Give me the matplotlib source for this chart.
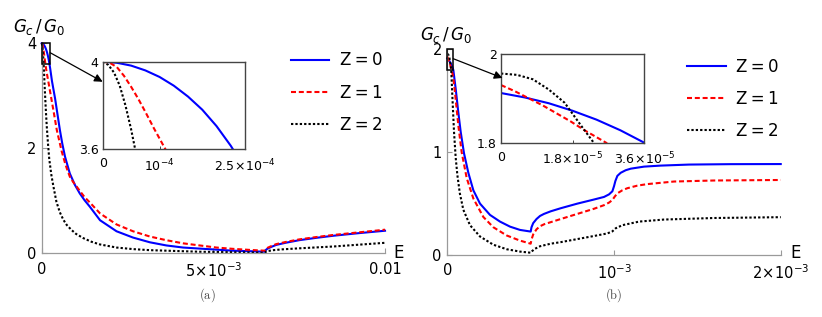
import numpy as np
import matplotlib
matplotlib.use('Agg')
import matplotlib.pyplot as plt
from matplotlib.patches import Rectangle, ConnectionPatch

plt.rcParams['font.family'] = 'DejaVu Sans'
plt.rcParams['mathtext.fontset'] = 'dejavusans'

# ---- panel (a): energies in units of 1e-3 ----
ea_z0 = [0, 0.025, 0.05, 0.075, 0.10, 0.125, 0.15, 0.175, 0.20, 0.225, 0.25, 0.30, 0.39, 0.46,
         0.53, 0.60, 0.68, 0.82, 0.97, 1.11, 1.25, 1.40, 1.70, 2.18, 2.66, 3.15, 3.63, 4.12,
         4.60, 5.09, 5.57, 6.06, 6.50, 6.53, 6.58, 6.68, 6.83, 7.10, 7.50, 8.00, 8.50, 9.25, 10.0]
ga_z0 = [4.00, 3.995, 3.982, 3.96, 3.93, 3.89, 3.84, 3.78, 3.705, 3.615, 3.51, 3.28, 2.95, 2.65,
         2.35, 2.09, 1.84, 1.52, 1.30, 1.14, 1.01, 0.89, 0.63, 0.42, 0.30, 0.21, 0.15, 0.11,
         0.09, 0.07, 0.05, 0.04, 0.03, 0.065, 0.09, 0.12, 0.16, 0.20, 0.25, 0.295, 0.335, 0.385, 0.43]

ea_z1 = [0, 0.0125, 0.025, 0.0375, 0.05, 0.0625, 0.075, 0.09, 0.11, 0.13, 0.15, 0.20, 0.24, 0.34,
         0.44, 0.58, 0.68, 0.73, 0.82, 0.92, 1.02, 1.11, 1.25, 1.40, 1.70, 2.18, 2.66, 3.15,
         3.63, 4.12, 4.60, 5.09, 5.57, 6.06, 6.50, 6.53, 6.58, 6.68, 6.83, 7.10, 7.50, 8.00,
         8.50, 9.25, 10.0]
ga_z1 = [4.00, 3.995, 3.975, 3.935, 3.885, 3.83, 3.77, 3.695, 3.60, 3.51, 3.43, 3.25, 3.10, 2.73,
         2.35, 1.95, 1.72, 1.62, 1.46, 1.355, 1.27, 1.19, 1.07, 0.97, 0.76, 0.55, 0.42, 0.32,
         0.25, 0.19, 0.15, 0.11, 0.085, 0.065, 0.05, 0.08, 0.105, 0.135, 0.175, 0.215, 0.265, 0.31,
         0.35, 0.40, 0.45]

ea_z2 = [0, 0.01, 0.02, 0.03, 0.04, 0.05, 0.057, 0.07, 0.085, 0.10, 0.125, 0.15, 0.185, 0.22,
         0.28, 0.34, 0.43, 0.53, 0.63, 0.73, 0.86, 1.0, 1.21, 1.45, 1.69, 2.18, 2.66, 3.15,
         3.63, 4.6, 5.57, 6.5, 6.53, 6.6, 6.75, 7.0, 7.5, 8.5, 9.25, 10.0]
ga_z2 = [4.00, 3.985, 3.95, 3.89, 3.80, 3.69, 3.60, 3.42, 3.20, 3.00, 2.68, 2.40, 2.08, 1.80,
         1.50, 1.28, 0.98, 0.78, 0.64, 0.54, 0.45, 0.37, 0.29, 0.22, 0.17, 0.11, 0.08, 0.06,
         0.05, 0.03, 0.02, 0.01, 0.03, 0.045, 0.06, 0.075, 0.095, 0.13, 0.165, 0.20]

# ---- panel (b): energies in units of 1e-3 ----
eb_z0 = [0, 0.006, 0.012, 0.018, 0.024, 0.030, 0.036, 0.05, 0.065, 0.08, 0.10, 0.126, 0.156,
         0.196, 0.256, 0.316, 0.376, 0.436, 0.50, 0.505, 0.515, 0.535, 0.556, 0.58, 0.62, 0.68,
         0.78, 0.88, 0.94, 0.97, 0.99, 1.0, 1.008, 1.02, 1.04, 1.07, 1.10, 1.18, 1.28, 1.45,
         1.70, 2.0]
gb_z0 = [1.912, 1.902, 1.889, 1.872, 1.852, 1.828, 1.80, 1.62, 1.40, 1.20, 0.99, 0.80, 0.63,
         0.50, 0.39, 0.325, 0.276, 0.244, 0.228, 0.27, 0.31, 0.35, 0.38, 0.40, 0.425, 0.455,
         0.50, 0.54, 0.565, 0.59, 0.62, 0.67, 0.72, 0.77, 0.80, 0.825, 0.84, 0.86, 0.87, 0.88,
         0.884, 0.885]

eb_z1 = [0, 0.0035, 0.007, 0.0105, 0.014, 0.0175, 0.021, 0.0264, 0.036, 0.046, 0.056, 0.066,
         0.086, 0.116, 0.156, 0.216, 0.276, 0.356, 0.436, 0.50, 0.505, 0.515, 0.535, 0.556,
         0.582, 0.68, 0.78, 0.88, 0.94, 0.97, 0.99, 1.005, 1.02, 1.05, 1.08, 1.14, 1.20, 1.36,
         1.60, 2.0]
gb_z1 = [1.930, 1.916, 1.900, 1.884, 1.866, 1.848, 1.828, 1.80, 1.72, 1.58, 1.42, 1.26,
         1.00, 0.75, 0.55, 0.37, 0.27, 0.19, 0.14, 0.11, 0.15, 0.20, 0.25, 0.28,
         0.30, 0.35, 0.40, 0.45, 0.485, 0.51, 0.535, 0.57, 0.60, 0.63, 0.65, 0.675, 0.69, 0.715,
         0.725, 0.73]

eb_z2 = [0, 0.004, 0.008, 0.012, 0.016, 0.02, 0.0233, 0.03, 0.04, 0.05, 0.06, 0.075, 0.096,
         0.136, 0.196, 0.276, 0.356, 0.436, 0.50, 0.51, 0.525, 0.556, 0.62, 0.68, 0.78, 0.88,
         0.96, 0.99, 1.01, 1.05, 1.15, 1.30, 1.60, 2.0]
gb_z2 = [1.956, 1.953, 1.943, 1.92, 1.89, 1.84, 1.80, 1.55, 1.20, 0.95, 0.78, 0.60, 0.44,
         0.29, 0.18, 0.10, 0.056, 0.033, 0.022, 0.04, 0.06, 0.085, 0.11, 0.125, 0.155, 0.185,
         0.21, 0.23, 0.26, 0.29, 0.325, 0.345, 0.36, 0.368]

labels = ['Z\u2009=\u20090', 'Z\u2009=\u20091', 'Z\u2009=\u20092']
colors = ['#0000ff', '#ff0000', '#000000']
styles = ['-', (0, (2.4, 1.35)), (0, (1.1, 1.0))]

series_a = [(ea_z0, ga_z0), (ea_z1, ga_z1), (ea_z2, ga_z2)]
series_b = [(eb_z0, gb_z0), (eb_z1, gb_z1), (eb_z2, gb_z2)]

AXIS_GRAY = '#9a9a9a'
INSET_GRAY = '#444444'

fig = plt.figure(figsize=(8.22, 3.17), dpi=100)


def style_main(ax):
    for s in ['top', 'right']:
        ax.spines[s].set_visible(False)
    for s in ['left', 'bottom']:
        ax.spines[s].set_color(AXIS_GRAY)
        ax.spines[s].set_linewidth(0.9)
    ax.tick_params(direction='in', length=3.5, width=0.8, color=AXIS_GRAY,
                   labelsize=10.5, labelcolor='black')
    ax.tick_params(axis='x', pad=6)
    ax.tick_params(axis='y', pad=4)
    ax.patch.set_alpha(0)


def style_inset(ax):
    for s in ax.spines.values():
        s.set_color(INSET_GRAY)
        s.set_linewidth(1.0)
    ax.tick_params(direction='in', length=2.5, width=0.7, color=INSET_GRAY,
                   labelsize=9, labelcolor='black')
    ax.tick_params(axis='x', pad=6)
    ax.tick_params(axis='y', pad=3)


def draw(ax, series, clip=True):
    lines = []
    for (e, g), c, ls, lab in zip(series, colors, styles, labels):
        ln, = ax.plot(np.array(e) * 1e-3, g, color=c, linestyle=ls, lw=1.5,
                      label=lab, clip_on=clip)
        lines.append(ln)
    return lines


# ---------- panel (a) ----------
axa = fig.add_axes([0.0507, 0.2009, 0.4177, 0.6625])
lines_a = draw(axa, series_a, clip=False)
axa.set_xlim(0, 0.01)
axa.set_ylim(0, 4)
axa.set_xticks([0, 5e-3, 0.01])
axa.set_xticklabels(['0', r'$5\!\times\!10^{-3}$', '0.01'])
axa.set_yticks([0, 2, 4])
axa.set_yticklabels(['0', '2', '4'])
style_main(axa)
axa.add_patch(Rectangle((0, 3.6), 2.5e-4, 0.4, fill=False, edgecolor='black', lw=1.1,
                        clip_on=False, zorder=5))

ina = fig.add_axes([0.1249, 0.5300, 0.1731, 0.2754])
draw(ina, series_a)
ina.set_xlim(0, 2.5e-4)
ina.set_ylim(3.6, 4)
ina.set_xticks([0, 1e-4, 2.5e-4])
ina.set_xticklabels(['0', r'$10^{-4}$', r'$2.5\!\times\!10^{-4}$'])
ina.set_yticks([3.6, 4])
ina.set_yticklabels(['3.6', '4'])
style_inset(ina)

con_a = ConnectionPatch(xyA=(2.5e-4, 3.82), coordsA=axa.transData,
                        xyB=(0.0, 0.77), coordsB=ina.transAxes,
                        arrowstyle='-|>', mutation_scale=12, color='black', lw=0.9)
fig.add_artist(con_a)

axa.legend(handles=lines_a, loc='upper left', bbox_to_anchor=(0.354, 0.838),
           bbox_transform=fig.transFigure, frameon=False, fontsize=12,
           handlelength=2.3, handletextpad=0.65, labelspacing=0.85,
           borderpad=0, borderaxespad=0)

fig.text(39 / 822, 1 - 27 / 317, r'$G_c\,/\,G_0$', fontsize=12, ha='center', va='center')
fig.text(399 / 822, 1 - 253 / 317, 'E', fontsize=12, ha='center', va='center')
fig.text(207 / 822, 1 - 295 / 317, r'$\mathrm{(a)}$', math_fontfamily='cm',
         fontsize=9, color='#444444', ha='center', va='center')

# ---------- panel (b) ----------
axb = fig.add_axes([0.5442, 0.1956, 0.4056, 0.6483])
lines_b = draw(axb, series_b, clip=False)
axb.set_xlim(0, 2e-3)
axb.set_ylim(0, 2)
axb.set_xticks([0, 1e-3, 2e-3])
axb.set_xticklabels(['0', r'$10^{-3}$', r'$2\!\times\!10^{-3}$'])
axb.set_yticks([0, 1, 2])
axb.set_yticklabels(['0', '1', '2'])
style_main(axb)
axb.add_patch(Rectangle((0, 1.8), 3.6e-5, 0.2, fill=False, edgecolor='black', lw=1.1,
                        clip_on=False, zorder=5))

inb = fig.add_axes([0.6095, 0.5498, 0.1743, 0.2798])
draw(inb, series_b)
inb.set_xlim(0, 3.6e-5)
inb.set_ylim(1.8, 2)
inb.set_xticks([0, 1.8e-5, 3.6e-5])
inb.set_xticklabels(['0', r'$1.8\!\times\!10^{-5}$', r'$3.6\!\times\!10^{-5}$'])
inb.set_yticks([1.8, 2])
inb.set_yticklabels(['1.8', '2'])
style_inset(inb)

con_b = ConnectionPatch(xyA=(3.6e-5, 1.91), coordsA=axb.transData,
                        xyB=(0.01, 0.73), coordsB=inb.transAxes,
                        arrowstyle='-|>', mutation_scale=12, color='black', lw=0.9)
fig.add_artist(con_b)

axb.legend(handles=lines_b, loc='upper left', bbox_to_anchor=(0.836, 0.818),
           bbox_transform=fig.transFigure, frameon=False, fontsize=12,
           handlelength=2.3, handletextpad=0.65, labelspacing=0.85,
           borderpad=0, borderaxespad=0)

fig.text(446 / 822, 1 - 35 / 317, r'$G_c\,/\,G_0$', fontsize=12, ha='center', va='center')
fig.text(796 / 822, 1 - 253 / 317, 'E', fontsize=12, ha='center', va='center')
fig.text(614 / 822, 1 - 295 / 317, r'$\mathrm{(b)}$', math_fontfamily='cm',
         fontsize=9, color='#444444', ha='center', va='center')

fig.savefig('out.png', dpi=100)
